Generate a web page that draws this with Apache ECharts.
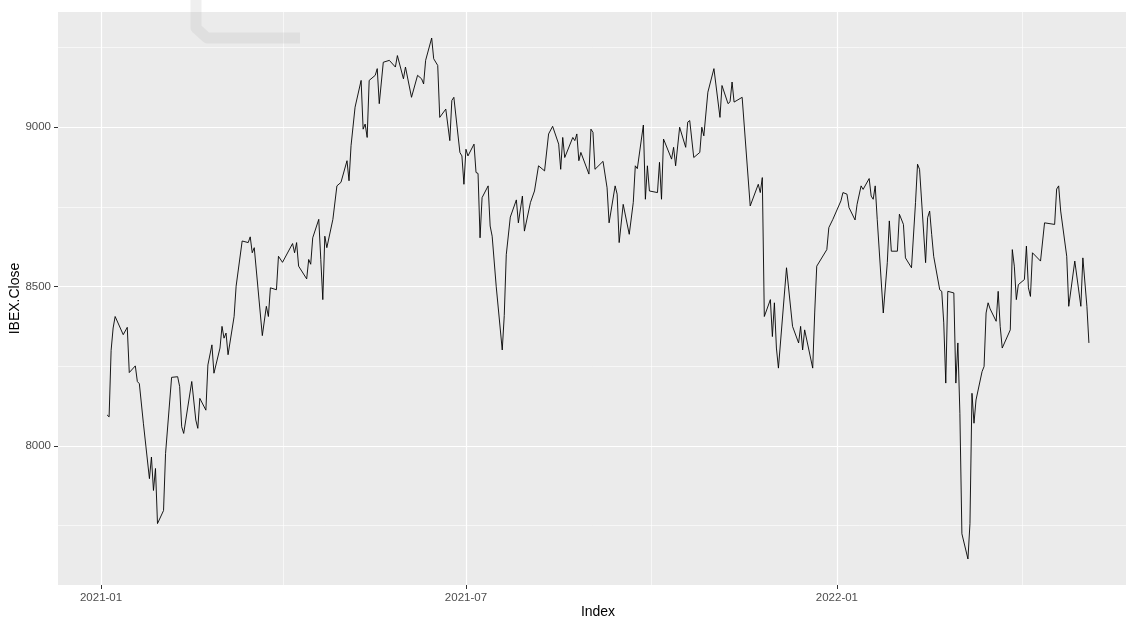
<!DOCTYPE html>
<html><head><meta charset="utf-8">
<script src="https://cdn.jsdelivr.net/npm/echarts@6/dist/echarts.min.js"></script>
<style>html,body{margin:0;padding:0;background:#fff}#c{width:1126px;height:618px}</style>
</head><body><div id="c"></div>
<script>
const dates = [
'2021-01-04','2021-01-05','2021-01-06','2021-01-07','2021-01-08','2021-01-12','2021-01-14','2021-01-15','2021-01-18','2021-01-19',
'2021-01-20','2021-01-22','2021-01-25','2021-01-26','2021-01-27','2021-01-28','2021-01-29','2021-02-01','2021-02-02','2021-02-05',
'2021-02-08','2021-02-09','2021-02-10','2021-02-11','2021-02-15','2021-02-17','2021-02-18','2021-02-19','2021-02-22','2021-02-23',
'2021-02-25','2021-02-26','2021-03-01','2021-03-02','2021-03-03','2021-03-04','2021-03-05','2021-03-08','2021-03-09','2021-03-12',
'2021-03-15','2021-03-16','2021-03-17','2021-03-18','2021-03-22','2021-03-24','2021-03-25','2021-03-26','2021-03-29','2021-03-30',
'2021-04-01','2021-04-06','2021-04-07','2021-04-08','2021-04-09','2021-04-13','2021-04-14','2021-04-15','2021-04-16','2021-04-19',
'2021-04-20','2021-04-21','2021-04-22','2021-04-23','2021-04-26','2021-04-28','2021-04-30','2021-05-03','2021-05-04','2021-05-05',
'2021-05-07','2021-05-10','2021-05-11','2021-05-12','2021-05-13','2021-05-14','2021-05-17','2021-05-18','2021-05-19','2021-05-21',
'2021-05-24','2021-05-27','2021-05-28','2021-05-31','2021-06-01','2021-06-04','2021-06-07','2021-06-09','2021-06-10','2021-06-11',
'2021-06-14','2021-06-15','2021-06-17','2021-06-18','2021-06-21','2021-06-23','2021-06-24','2021-06-25','2021-06-28','2021-06-29',
'2021-06-30','2021-07-01','2021-07-02','2021-07-05','2021-07-06','2021-07-07','2021-07-08','2021-07-09','2021-07-12','2021-07-13',
'2021-07-14','2021-07-16','2021-07-19','2021-07-20','2021-07-21','2021-07-23','2021-07-26','2021-07-27','2021-07-29','2021-07-30',
'2021-08-02','2021-08-04','2021-08-06','2021-08-09','2021-08-11','2021-08-13','2021-08-16','2021-08-17','2021-08-18','2021-08-19',
'2021-08-23','2021-08-24','2021-08-25','2021-08-26','2021-08-27','2021-08-31','2021-09-01','2021-09-02','2021-09-03','2021-09-07',
'2021-09-09','2021-09-10','2021-09-13','2021-09-14','2021-09-15','2021-09-17','2021-09-20','2021-09-22','2021-09-23','2021-09-24',
'2021-09-27','2021-09-28','2021-09-29','2021-09-30','2021-10-04','2021-10-05','2021-10-06','2021-10-07','2021-10-11','2021-10-12',
'2021-10-13','2021-10-15','2021-10-18','2021-10-19','2021-10-20','2021-10-22','2021-10-25','2021-10-26','2021-10-27','2021-10-29',
'2021-11-01','2021-11-04','2021-11-05','2021-11-08','2021-11-09','2021-11-10','2021-11-11','2021-11-15','2021-11-19','2021-11-23',
'2021-11-24','2021-11-25','2021-11-26','2021-11-29','2021-11-30','2021-12-01','2021-12-02','2021-12-03','2021-12-07','2021-12-10',
'2021-12-13','2021-12-14','2021-12-15','2021-12-16','2021-12-20','2021-12-21','2021-12-22','2021-12-27','2021-12-28','2021-12-30',
'2022-01-03','2022-01-04','2022-01-06','2022-01-07','2022-01-10','2022-01-11','2022-01-13','2022-01-14','2022-01-17','2022-01-18',
'2022-01-19','2022-01-20','2022-01-21','2022-01-24','2022-01-26','2022-01-27','2022-01-28','2022-01-31','2022-02-01','2022-02-03',
'2022-02-04','2022-02-07','2022-02-09','2022-02-10','2022-02-11','2022-02-14','2022-02-15','2022-02-16','2022-02-17','2022-02-18',
'2022-02-21','2022-02-22','2022-02-23','2022-02-24','2022-02-25','2022-02-28','2022-03-01','2022-03-02','2022-03-03','2022-03-04',
'2022-03-07','2022-03-08','2022-03-09','2022-03-10','2022-03-11','2022-03-14','2022-03-15','2022-03-16','2022-03-17','2022-03-18',
'2022-03-21','2022-03-22','2022-03-23','2022-03-24','2022-03-28','2022-03-29','2022-03-30','2022-03-31','2022-04-01','2022-04-04',
'2022-04-05','2022-04-06','2022-04-07','2022-04-08','2022-04-12','2022-04-14','2022-04-19','2022-04-20','2022-04-21','2022-04-22',
'2022-04-25','2022-04-26','2022-04-29','2022-05-02','2022-05-03','2022-05-05','2022-05-06'
];
const closes = [
8097,8091,8300,8370,8406,8349,8372,8230,8251,8202,
8195,8071,7897,7965,7860,7929,7756,7797,7976,8215,
8217,8186,8060,8039,8202,8081,8055,8149,8112,8254,
8317,8228,8307,8375,8338,8354,8286,8406,8501,8643,
8638,8656,8606,8622,8346,8438,8406,8496,8490,8595,
8576,8635,8606,8638,8564,8524,8585,8570,8653,8711,
8585,8459,8658,8622,8711,8816,8827,8895,8832,8942,
9063,9147,8994,9010,8968,9147,9163,9184,9074,9204,
9210,9189,9225,9152,9189,9094,9163,9152,9136,9210,
9280,9215,9194,9031,9057,8958,9084,9094,8921,8910,
8821,8931,8910,8947,8858,8855,8653,8779,8816,8690,
8658,8501,8301,8409,8600,8718,8772,8700,8784,8674,
8764,8800,8879,8863,8979,9003,8947,8868,8968,8905,
8968,8958,8979,8895,8921,8853,8994,8984,8868,8893,
8810,8700,8816,8790,8638,8758,8664,8764,8879,8870,
9007,8774,8879,8800,8795,8890,8774,8963,8900,8937,
8879,9000,8937,9016,9021,8905,8921,9000,8973,9110,
9184,9031,9131,9074,9080,9142,9079,9094,8753,8821,
8795,8842,8406,8459,8343,8449,8307,8244,8559,8375,
8323,8375,8301,8364,8244,8420,8564,8616,8685,8711,
8769,8795,8790,8748,8709,8758,8816,8805,8839,8784,
8774,8816,8711,8417,8575,8706,8611,8611,8727,8695,
8590,8559,8764,8884,8868,8575,8716,8737,8664,8595,
8490,8485,8386,8197,8485,8480,8197,8323,8102,7724,
7645,7756,8165,8071,8144,8233,8249,8417,8449,8430,
8391,8485,8375,8307,8364,8616,8564,8459,8506,8522,
8627,8496,8469,8606,8580,8700,8695,8806,8816,8737,
8595,8438,8580,8438,8590,8438,8323
];
const xTickLabels = ['2021-01-01','2021-07-01','2022-01-01'];
const yTicks = [8000, 8500, 9000];
const yMinorTicks = [7750, 8250, 8750, 9250];

function ts(s){ const p = s.split('-').map(Number); return new Date(p[0], p[1]-1, p[2]).getTime(); }
function fmtMonth(v){ const d = new Date(v); const m = d.getMonth()+1; return d.getFullYear() + '-' + (m<10?'0':'') + m; }
const xs = dates.map(ts);
const seriesData = xs.map((t,i)=>[t, closes[i]]);
const xMinD = xs[0], xMaxD = xs[xs.length-1];
const xPad = (xMaxD - xMinD) * 0.05;
const vMin = Math.min(...closes), vMax = Math.max(...closes);
const yPad = (vMax - vMin) * 0.05;
const xTicks = xTickLabels.map(ts);
const xMinor = [];
for (let i = 0; i < xTicks.length; i++) {
  const next = i < xTicks.length-1 ? xTicks[i+1] : xTicks[i] + (xTicks[i]-xTicks[i-1]);
  xMinor.push((xTicks[i]+next)/2);
}

const major = {color:'#FFFFFF', width:1.2, type:'solid'};
const minor = {color:'#FFFFFF', width:0.6, type:'solid'};
const gridLines = [];
yTicks.forEach(v=>gridLines.push({yAxis:v, lineStyle:major}));
yMinorTicks.forEach(v=>gridLines.push({yAxis:v, lineStyle:minor}));
xTicks.forEach(v=>gridLines.push({xAxis:v, lineStyle:major}));
xMinor.forEach(v=>gridLines.push({xAxis:v, lineStyle:minor}));

const chart = echarts.init(document.getElementById('c'), null, {renderer:'canvas'});
chart.setOption({
  animation:false,
  backgroundColor:'#FFFFFF',
  textStyle:{fontFamily:'Liberation Sans, Arial, sans-serif'},
  grid:{left:58, right:-12, top:12, bottom:33, show:true, backgroundColor:'#EBEBEB', borderWidth:0,
        containLabel:false, outerBoundsMode:'none'},
  graphic:[
    {type:'polyline', silent:true, z:10,
     shape:{points:[[196,-10],[196,28],[207,38],[300,38]]},
     style:{stroke:'#b8b8b8', lineWidth:11, fill:null, opacity:0.22, lineJoin:'round'}}
  ],
  xAxis:{
    type:'value', min:xMinD - xPad, max:xMaxD + xPad,
    splitLine:{show:false}, axisLine:{show:false},
    axisTick:{show:true, customValues:xTicks, length:4, lineStyle:{color:'#333333', width:1}},
    axisLabel:{customValues:xTicks, color:'#4D4D4D', fontSize:11.5, margin:7, formatter:fmtMonth},
    name:'Index', nameLocation:'middle', nameGap:20, nameMoveOverlap:false,
    nameTextStyle:{color:'#000000', fontSize:14}
  },
  yAxis:{
    type:'value', min:vMin - yPad, max:vMax + yPad,
    splitLine:{show:false}, axisLine:{show:false},
    axisTick:{show:true, customValues:yTicks, length:4, lineStyle:{color:'#333333', width:1}},
    axisLabel:{customValues:yTicks, color:'#4D4D4D', fontSize:11.5, margin:7, formatter:(v)=>String(v)},
    name:'IBEX.Close', nameLocation:'middle', nameGap:36, nameRotate:90, nameMoveOverlap:false,
    nameTextStyle:{color:'#000000', fontSize:14}
  },
  series:[
    {type:'line', data:seriesData, showSymbol:false, silent:true, z:1,
     lineStyle:{opacity:0},
     markLine:{silent:true, z:1, symbol:['none','none'], label:{show:false}, animation:false, data:gridLines}},
    {type:'line', data:seriesData, showSymbol:false, silent:true, z:3,
     lineStyle:{color:'#000000', width:0.9}}
  ]
});
</script>
</body></html>
